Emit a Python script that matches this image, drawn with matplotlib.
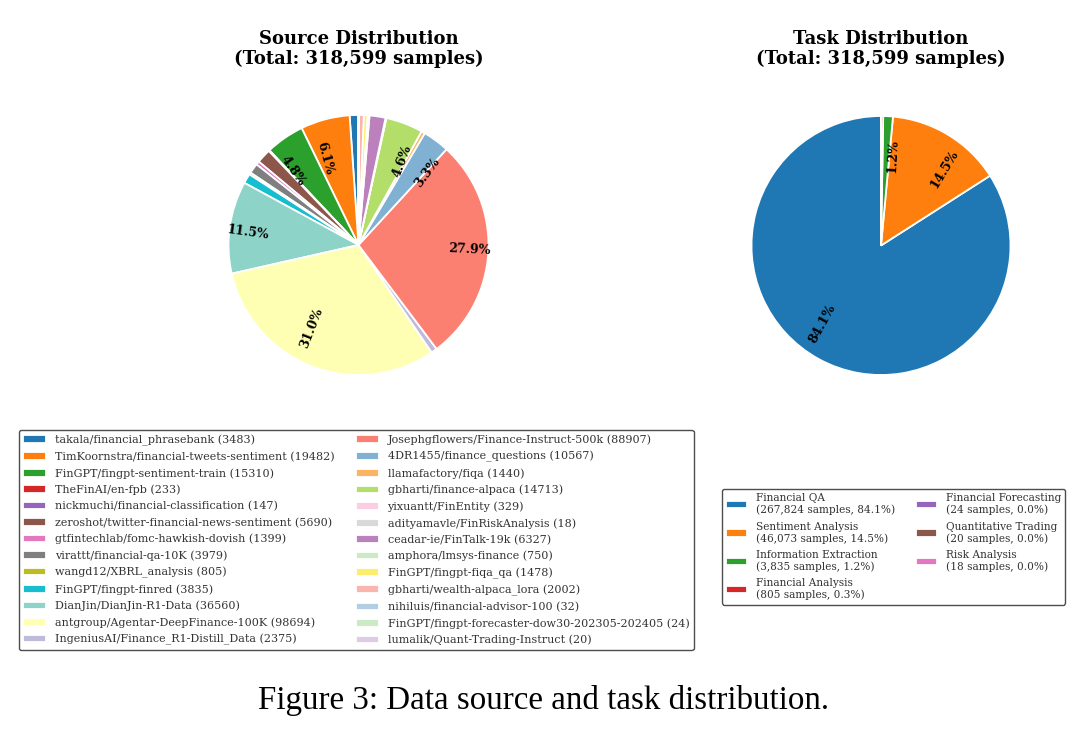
import matplotlib
matplotlib.use("Agg")
import matplotlib.pyplot as plt
import numpy as np

# ---------------- data ----------------
source_names = [
    "takala/financial_phrasebank",
    "TimKoornstra/financial-tweets-sentiment",
    "FinGPT/fingpt-sentiment-train",
    "TheFinAI/en-fpb",
    "nickmuchi/financial-classification",
    "zeroshot/twitter-financial-news-sentiment",
    "gtfintechlab/fomc-hawkish-dovish",
    "virattt/financial-qa-10K",
    "wangd12/XBRL_analysis",
    "FinGPT/fingpt-finred",
    "DianJin/DianJin-R1-Data",
    "antgroup/Agentar-DeepFinance-100K",
    "IngeniusAI/Finance_R1-Distill_Data",
    "Josephgflowers/Finance-Instruct-500k",
    "4DR1455/finance_questions",
    "llamafactory/fiqa",
    "gbharti/finance-alpaca",
    "yixuantt/FinEntity",
    "adityamavle/FinRiskAnalysis",
    "ceadar-ie/FinTalk-19k",
    "amphora/lmsys-finance",
    "FinGPT/fingpt-fiqa_qa",
    "gbharti/wealth-alpaca_lora",
    "nihiluis/financial-advisor-100",
    "FinGPT/fingpt-forecaster-dow30-202305-202405",
    "lumalik/Quant-Trading-Instruct",
]
source_counts = [3483, 19482, 15310, 233, 147, 5690, 1399, 3979, 805, 3835,
                 36560, 98694, 2375, 88907, 10567, 1440, 14713, 329, 18,
                 6327, 750, 1478, 2002, 32, 24, 20]

task_names = ["Financial QA", "Sentiment Analysis", "Information Extraction",
              "Financial Analysis", "Financial Forecasting",
              "Quantitative Trading", "Risk Analysis"]
task_counts = [267824, 46073, 3835, 805, 24, 20, 18]

# ---------------- style ----------------
SERIF = "DejaVu Serif"
src_colors = (list(plt.get_cmap("tab10").colors)
              + list(plt.get_cmap("Set3").colors)
              + list(plt.get_cmap("Pastel1").colors)[:4])
task_colors = list(plt.get_cmap("tab10").colors)[:len(task_counts)]

W, H = 1088, 735
fig = plt.figure(figsize=(W / 100, H / 100), dpi=100)


def px_axes(cx, cy, r):
    return fig.add_axes([(cx - r) / W, 1 - (cy + r) / H, 2 * r / W, 2 * r / H])


def draw_pie(ax, counts, colors, threshold):
    total = sum(counts)
    labels = [f"{c / total * 100:.1f}%" if c / total * 100 > threshold else ""
              for c in counts]
    wedges, texts = ax.pie(counts, colors=colors, startangle=90,
                           labels=labels, labeldistance=0.69,
                           wedgeprops=dict(edgecolor="white", linewidth=1.3),
                           textprops=dict(fontsize=9, fontweight="bold",
                                          family=SERIF, color="black"))
    for w, t in zip(wedges, texts):
        ang = (w.theta1 + w.theta2) / 2.0
        if np.cos(np.deg2rad(ang)) < 0:
            ang += 180
        t.set_rotation(ang % 360)
    ax.set_xlim(-1, 1)
    ax.set_ylim(-1, 1)
    ax.set_aspect("equal")
    return wedges


ax1 = px_axes(358.5, 245, 130)
w1 = draw_pie(ax1, source_counts, src_colors, 3.0)
ax2 = px_axes(881, 245.5, 129.5)
w2 = draw_pie(ax2, task_counts, task_colors, 1.0)

total = sum(source_counts)
fig.text(358.5 / W, 1 - 49 / H,
         f"Source Distribution\n(Total: {total:,} samples)",
         ha="center", va="center", ma="center", fontsize=13,
         fontweight="bold", family=SERIF, linespacing=1.15)
fig.text(881 / W, 1 - 49 / H,
         f"Task Distribution\n(Total: {sum(task_counts):,} samples)",
         ha="center", va="center", ma="center", fontsize=13,
         fontweight="bold", family=SERIF, linespacing=1.15)

src_labels = [f"{n} ({c})" for n, c in zip(source_names, source_counts)]
leg1 = fig.legend(w1, src_labels, loc="upper left",
                  bbox_to_anchor=(19 / W, 1 - 430 / H), borderaxespad=0,
                  ncol=2, prop=dict(family=SERIF, size=8),
                  labelspacing=0.54, fancybox=True, edgecolor="0.3",
                  framealpha=1, labelcolor="0.2")

tt = sum(task_counts)
task_labels = [f"{n}\n({c:,} samples, {c / tt * 100:.1f}%)"
               for n, c in zip(task_names, task_counts)]
leg2 = fig.legend(w2, task_labels, loc="upper left",
                  bbox_to_anchor=(722 / W, 1 - 489 / H), borderaxespad=0,
                  ncol=2, prop=dict(family=SERIF, size=7.6),
                  labelspacing=0.57, fancybox=True, edgecolor="0.3",
                  framealpha=1, labelcolor="0.2")

fig.text(0.5, 1 - 700 / H, "Figure 3: Data source and task distribution.",
         ha="center", va="center", fontsize=23.8, family="Liberation Serif")

fig.savefig("out.png", dpi=100)
